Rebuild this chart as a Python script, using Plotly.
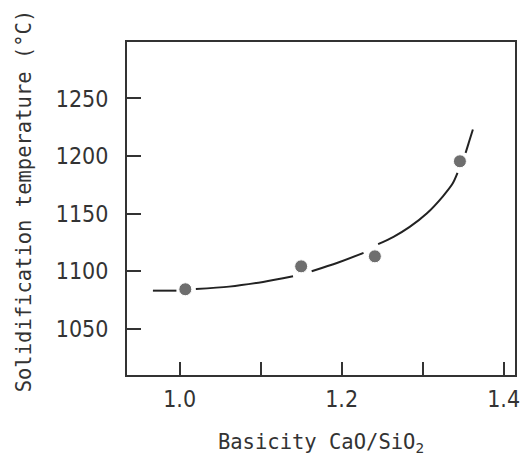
import plotly.graph_objects as go

# Measured data points (basicity, solidification temperature)
basicity = [1.007, 1.150, 1.241, 1.346]
solid_temp = [1084.4, 1104.3, 1113.0, 1195.5]

# Hand-drawn trend curve (None = gap in the drawn line around a point)
curve_x = [0.967, 0.996, None,
           1.020, 1.061, 1.103, 1.140, None,
           1.163, 1.195, 1.227, None,
           1.245, 1.264, 1.284, 1.305, 1.325, 1.337, 1.343, None,
           1.353, 1.362]
curve_y = [1083.2, 1083.2, None,
           1084.7, 1086.7, 1090.8, 1095.7, None,
           1100.0, 1107.4, 1116.0, None,
           1123.6, 1129.9, 1138.5, 1150.1, 1165.1, 1176.1, 1185.4, None,
           1202.8, 1223.0]

x_tickvals = [1.0, 1.2, 1.4]
x_ticktext = ["1.0", "1.2", "1.4"]
x_minor_tickvals = [1.1, 1.3]
y_tickvals = [1050, 1100, 1150, 1200, 1250]
y_ticktext = ["1050", "1100", "1150", "1200", "1250"]

tick_font = dict(family="DejaVu Sans Condensed, DejaVu Sans", size=23, color="#333333")
title_font = dict(family="DejaVu Sans Mono", size=20.5, color="#333333")

fig = go.Figure()
fig.add_trace(go.Scatter(x=curve_x, y=curve_y, mode="lines", connectgaps=False,
                         line=dict(color="#222222", width=2, shape="spline", smoothing=0.8),
                         hoverinfo="skip", showlegend=False))
fig.add_trace(go.Scatter(x=basicity, y=solid_temp, mode="markers",
                         marker=dict(color="#6e6e6e", size=13,
                                     line=dict(color="white", width=1)),
                         showlegend=False))

fig.update_layout(
    width=523, height=457,
    margin=dict(l=127, r=3, t=42, b=82),
    paper_bgcolor="white", plot_bgcolor="white",
    xaxis=dict(range=[0.935, 1.414], tickvals=x_tickvals, ticktext=x_ticktext,
               ticks="inside", ticklen=13, tickwidth=1.5, tickcolor="#333333",
               minor=dict(tickvals=x_minor_tickvals, ticks="inside", ticklen=13,
                          tickwidth=1.5, tickcolor="#333333", showgrid=False),
               showline=True, linecolor="#333333", linewidth=2, mirror=True,
               showgrid=False, zeroline=False, tickfont=tick_font,
               ticklabelstandoff=2, ticklabeloverflow="allow",
               title=dict(text="Basicity CaO/SiO<sub>2</sub>", font=title_font, standoff=24)),
    yaxis=dict(range=[1010, 1299], tickvals=y_tickvals, ticktext=y_ticktext,
               ticks="inside", ticklen=14, tickwidth=1.5, tickcolor="#333333",
               showline=True, linecolor="#333333", linewidth=2, mirror=True,
               showgrid=False, zeroline=False, tickfont=tick_font,
               ticklabelstandoff=12, ticklabeloverflow="allow"),
    annotations=[dict(text="Solidification temperature (°C)", textangle=-90,
                      xref="paper", yref="paper", x=(23 - 127) / 393, y=(375 - 201) / 333,
                      xanchor="center", yanchor="middle", showarrow=False,
                      font=title_font)],
)

fig.write_html("out.html")
